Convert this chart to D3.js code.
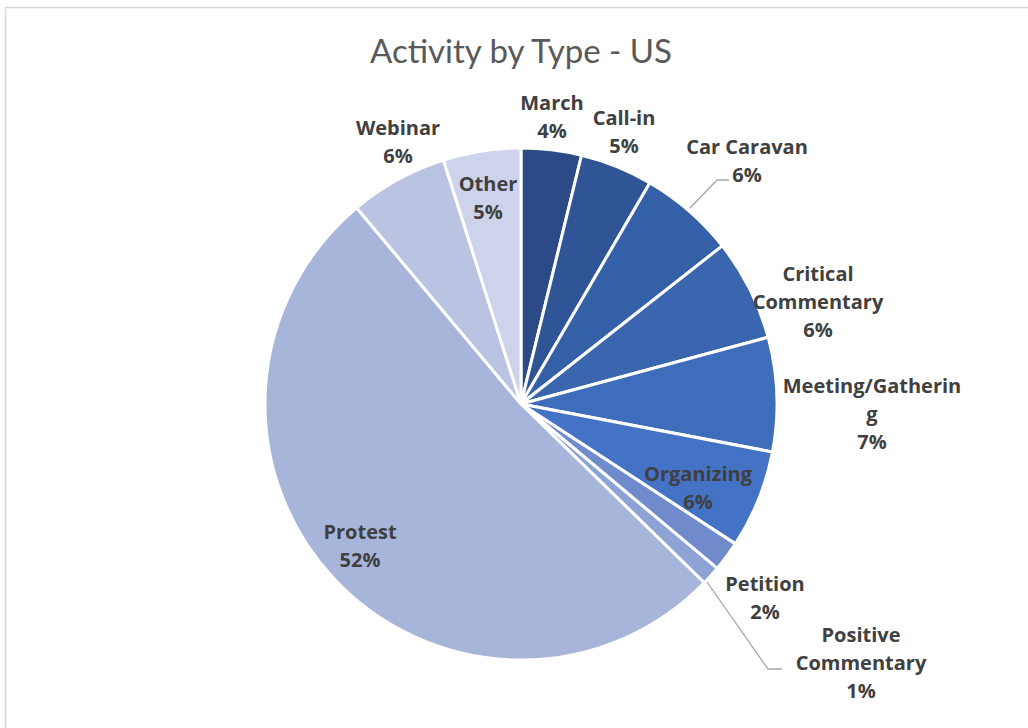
<!DOCTYPE html>
<html><head><meta charset="utf-8">
<script src="https://cdn.jsdelivr.net/npm/d3@7/dist/d3.min.js"></script>
<style>body{margin:0;background:#fff}svg{display:block}</style>
</head><body>
<svg id="c" width="1028" height="728"></svg>
<script>
const categories = ["March","Call-in","Car Caravan","Critical Commentary","Meeting/Gathering","Organizing","Petition","Positive Commentary","Protest","Webinar","Other"];
const values = [3.8,4.6,6.0,6.4,7.2,6.2,1.9,1.2,51.6,6.2,4.9];
const colors = ["#2b4a86","#2f5597","#3460a7","#3966ae","#3e6dbc","#4472c4","#6f8bcb","#8ea3d5","#a8b5da","#bac4e2","#cdd3ea"];
// label text lines (as shown in chart)
const labelLines = [["March"],["Call-in"],["Car Caravan"],["Critical","Commentary"],["Meeting/Gatherin","g"],["Organizing"],["Petition"],["Positive","Commentary"],["Protest"],["Webinar"],["Other"]];
// label layout: center x, first-line center y
const labelPos = [[552,102],[624,117],[747,146],[818,273],[872,385],[698,473],[765,583],[861,634],[360,531],[398,127],[488,183]];
const leaders = {2:[[690,208],[717,180],[729,180]],7:[[707,582],[768,669],[782,669]]};

const svg = d3.select("#c");
svg.append("path").attr("d","M5.5,728 V7.5 H1028").attr("fill","none").attr("stroke","#d9d9d9").attr("stroke-width",1.5);

svg.append("text").attr("x",521).attr("y",63).attr("text-anchor","middle")
  .attr("font-family","Lato, 'Open Sans', sans-serif").attr("font-size",33).attr("fill","#595959")
  .text("Activity by Type - US");

const cx=521, cy=404, r=256;
const total = d3.sum(values);
const pie = d3.pie().sort(null).value(d=>d);
const arc = d3.arc().innerRadius(0).outerRadius(r);
const g = svg.append("g").attr("transform",`translate(${cx},${cy})`);
g.selectAll("path").data(pie(values)).join("path")
  .attr("d",arc).attr("fill",(d,i)=>colors[i]).attr("stroke","#fff").attr("stroke-width",3).attr("stroke-linejoin","round");

Object.entries(leaders).forEach(([i,pts])=>{
  svg.append("path").attr("d",d3.line()(pts)).attr("fill","none").attr("stroke","#a6a6a6").attr("stroke-width",1.3);
});

const lh = 28;
categories.forEach((c,i)=>{
  const lines = labelLines[i].concat([Math.round(values[i]/total*100)+"%"]);
  const t = svg.append("text").attr("text-anchor","middle")
    .attr("font-family","'Open Sans', Lato, sans-serif").attr("font-weight","bold").attr("font-size",20).attr("fill","#404040");
  lines.forEach((l,k)=>{
    t.append("tspan").attr("x",labelPos[i][0]).attr("y",labelPos[i][1]+k*lh).attr("dominant-baseline","central").text(l);
  });
});
</script>
</body></html>
